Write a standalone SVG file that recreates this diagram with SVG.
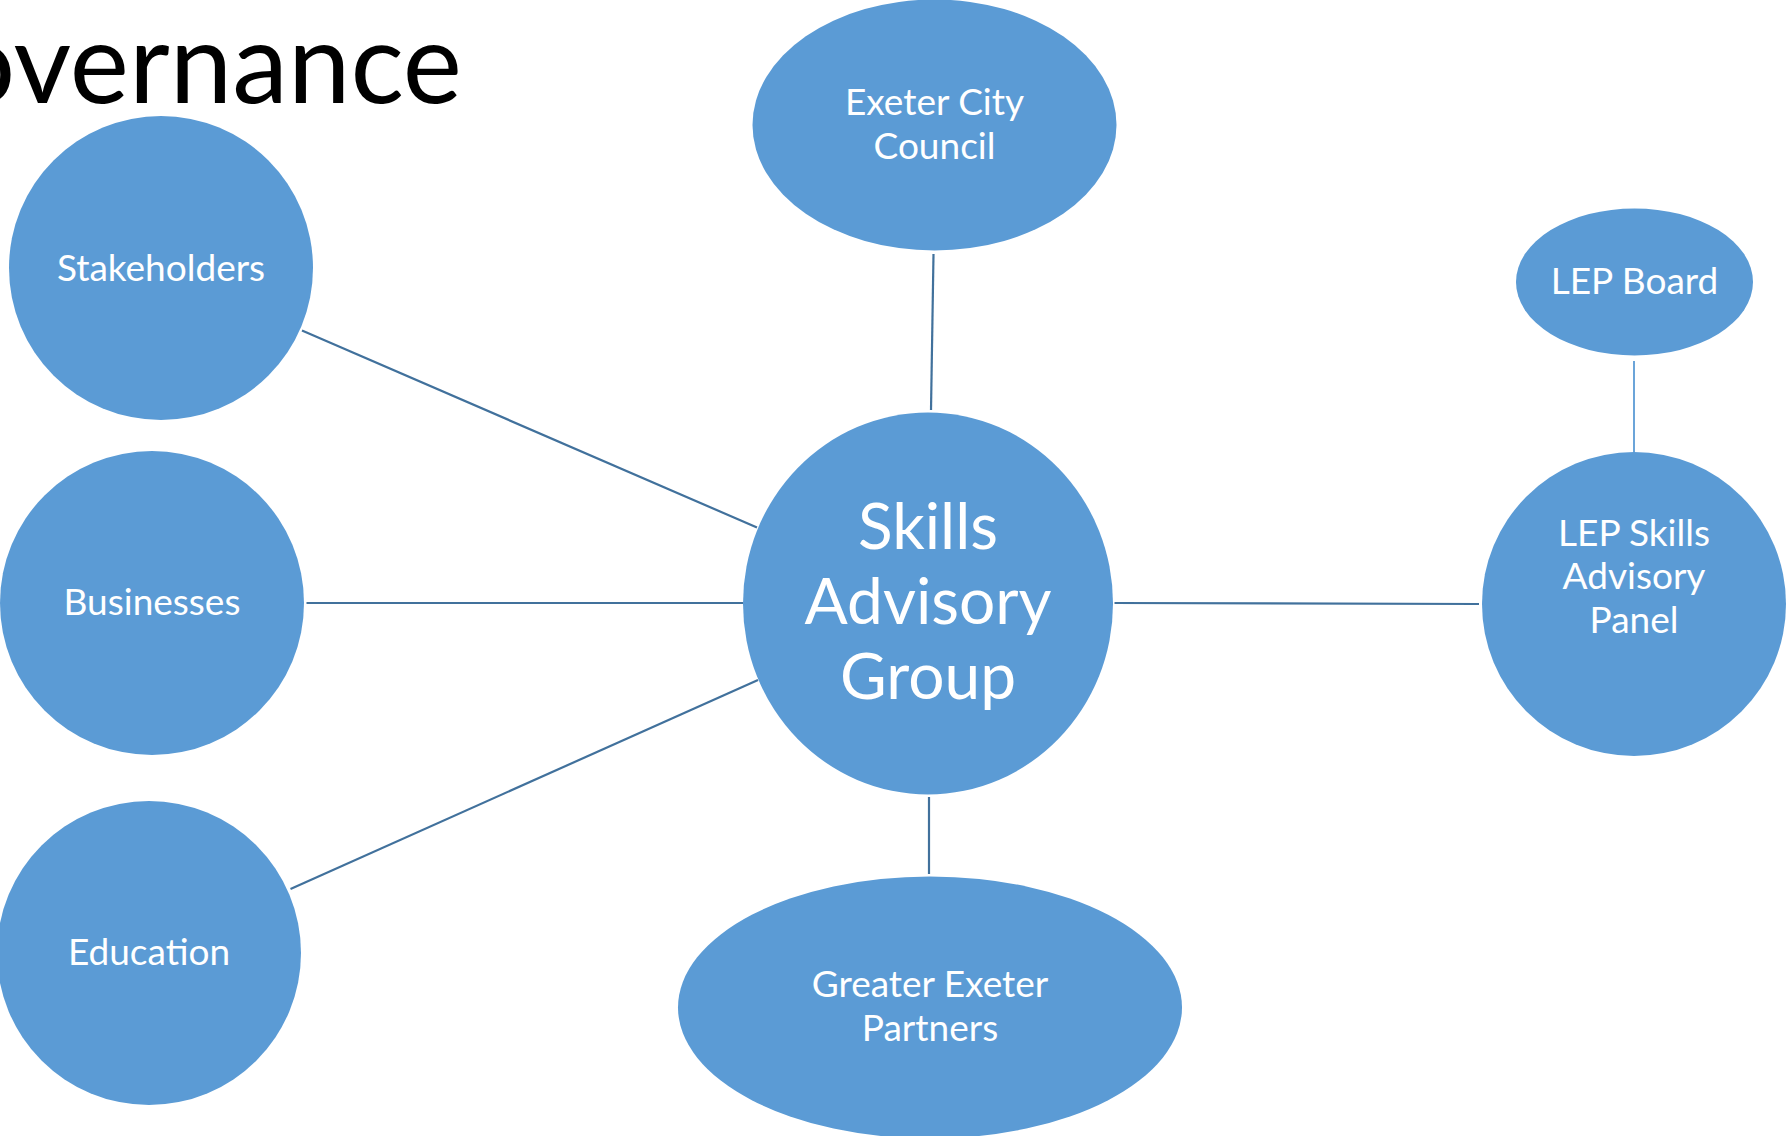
<svg xmlns="http://www.w3.org/2000/svg" width="1787" height="1136" viewBox="0 0 1787 1136">
  <style>
    .node { fill: #5B9BD5; }
    .label { fill: #FFFFFF; font-family: Lato, "Open Sans", "Liberation Sans", sans-serif; text-anchor: middle; }
    .small { font-size: 37px; }
    .big { font-size: 64px; }
    .link { stroke: #41719C; stroke-width: 2.2; fill: none; }
    .link-light { stroke: #5B9BD5; stroke-width: 1.8; fill: none; }
    .title { fill: #000000; font-family: Lato, "Open Sans", "Liberation Sans", sans-serif; font-size: 112px; }
  </style>
  <rect width="1787" height="1136" fill="#FFFFFF"/>

  <text class="title" x="462" y="103" text-anchor="end">overnance</text>

  <!-- connectors -->
  <g id="connectors">
    <line class="link" x1="302" y1="330.5" x2="757" y2="527.5"/>
    <line class="link" x1="306.5" y1="603" x2="743" y2="603"/>
    <line class="link" x1="290.5" y1="889" x2="758" y2="680"/>
    <line class="link" x1="933.5" y1="254" x2="931" y2="410"/>
    <line class="link" x1="929" y1="797" x2="929" y2="874"/>
    <line class="link" x1="1114.5" y1="603" x2="1479" y2="604"/>
    <line class="link-light" x1="1634" y1="361" x2="1634" y2="452"/>
  </g>

  <g id="stakeholders">
    <ellipse class="node" cx="161" cy="268" rx="152" ry="152"/>
    <text class="label small" x="161" y="281">Stakeholders</text>
  </g>

  <g id="businesses">
    <ellipse class="node" cx="152" cy="603" rx="152" ry="152"/>
    <text class="label small" x="152" y="615">Businesses</text>
  </g>

  <g id="education">
    <ellipse class="node" cx="149" cy="953" rx="152" ry="152"/>
    <text class="label small" x="149" y="965">Education</text>
  </g>

  <g id="exeter-city-council">
    <ellipse class="node" cx="934.5" cy="125" rx="182" ry="125.5"/>
    <text class="label small" x="934.5" y="115">Exeter City</text>
    <text class="label small" x="934.5" y="159">Council</text>
  </g>

  <g id="skills-advisory-group">
    <ellipse class="node" cx="928" cy="603.5" rx="185" ry="191"/>
    <text class="label big" x="928" y="549">Skills</text>
    <text class="label big" x="928" y="624">Advisory</text>
    <text class="label big" x="928" y="699">Group</text>
  </g>

  <g id="greater-exeter-partners">
    <ellipse class="node" cx="930" cy="1007.5" rx="252" ry="131"/>
    <text class="label small" x="930" y="997">Greater Exeter</text>
    <text class="label small" x="930" y="1041">Partners</text>
  </g>

  <g id="lep-board">
    <ellipse class="node" cx="1634.5" cy="282" rx="118.5" ry="73.5"/>
    <text class="label small" x="1634.5" y="294">LEP Board</text>
  </g>

  <g id="lep-skills-advisory-panel">
    <ellipse class="node" cx="1634" cy="604" rx="152" ry="152"/>
    <text class="label small" x="1634" y="546">LEP Skills</text>
    <text class="label small" x="1634" y="589">Advisory</text>
    <text class="label small" x="1634" y="633">Panel</text>
  </g>
</svg>
